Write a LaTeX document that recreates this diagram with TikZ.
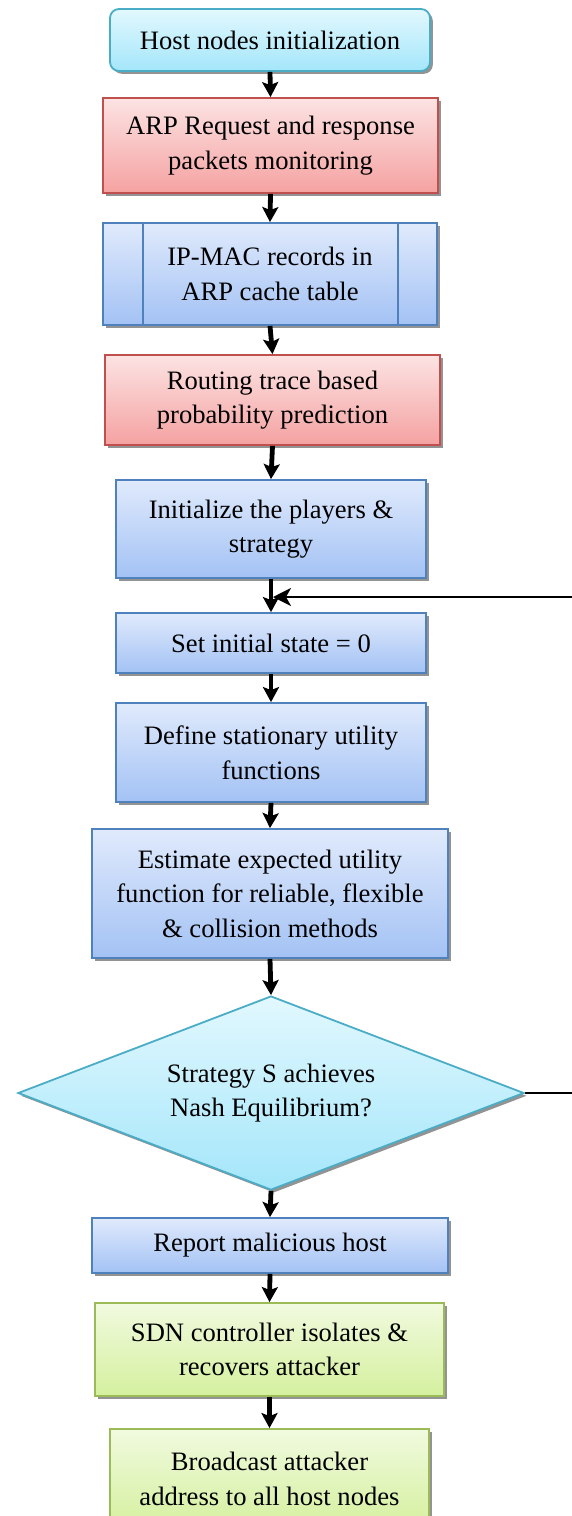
\documentclass[tikz,border=0pt]{standalone}
\usepackage{fontspec}
\setmainfont{Liberation Serif}
\usetikzlibrary{shapes.geometric,shadows,arrows.meta,calc}
\definecolor{cyTop}{HTML}{E2F8FE}
\definecolor{cyBot}{HTML}{A4E6FA}
\definecolor{cyLine}{HTML}{4BACC6}
\definecolor{rdTop}{HTML}{FCE3E3}
\definecolor{rdBot}{HTML}{F4A2A1}
\definecolor{rdLine}{HTML}{C0504D}
\definecolor{blTop}{HTML}{E0EAFC}
\definecolor{blBot}{HTML}{A3C2F4}
\definecolor{blLine}{HTML}{4F81BD}
\definecolor{grTop}{HTML}{F1FADF}
\definecolor{grBot}{HTML}{D4F09E}
\definecolor{grLine}{HTML}{9BBB59}
\tikzset{
  base/.style={draw, line width=0.9pt, inner sep=0pt, align=center,
    font=\fontsize{13.3}{17.3}\selectfont,
    drop shadow={shadow xshift=1.4pt, shadow yshift=-1.4pt, fill=black!50, opacity=0.85}},
  cybox/.style={base, draw=cyLine, top color=cyTop, bottom color=cyBot},
  rdbox/.style={base, draw=rdLine, top color=rdTop, bottom color=rdBot},
  blbox/.style={base, draw=blLine, top color=blTop, bottom color=blBot},
  grbox/.style={base, draw=grLine, top color=grTop, bottom color=grBot},
  flow/.style={line width=2.4pt, -{Stealth[length=7.5pt, width=8pt, inset=1.5pt]}},
  back/.style={line width=1.1pt, -{Stealth[length=9pt, width=9pt, inset=2.5pt]}},
  plain/.style={line width=1.1pt}
}
\begin{document}
\begin{tikzpicture}[x=0.5pt, y=-0.5pt]
\useasboundingbox (0,0) rectangle (572,1516);
\clip (0,0) rectangle (572,1516);

\node[cybox, rounded corners=4.5pt, minimum width=160pt, minimum height=31pt] (host) at (270,40) {Host nodes initialization};
\node[rdbox, minimum width=167.5pt, minimum height=47.5pt] (arp) at (270.5,145.5) {ARP Request and response\\packets monitoring};
\node[blbox, minimum width=167pt, minimum height=51pt] (ipmac) at (270,274) {IP-MAC records in\\ARP cache table};
\draw[blLine, line width=0.9pt] ($(ipmac.north west)+(41,0)$) -- ($(ipmac.south west)+(41,0)$);
\draw[blLine, line width=0.9pt] ($(ipmac.north east)+(-40,0)$) -- ($(ipmac.south east)+(-40,0)$);
\node[rdbox, minimum width=167.5pt, minimum height=45pt] (route) at (272.5,400) {Routing trace based\\probability prediction};
\node[blbox, minimum width=155pt, minimum height=49pt] (init) at (271,529) {Initialize the players \&\\strategy};
\node[blbox, minimum width=155pt, minimum height=30pt] (set) at (271,643) {Set initial state = 0};
\node[blbox, minimum width=155pt, minimum height=49.5pt] (def) at (271,752.5) {Define stationary utility\\functions};
\node[blbox, minimum width=178pt, minimum height=64.5pt] (est) at (270,893.5) {Estimate expected utility\\function for reliable, flexible\\\& collision methods};
\node[cybox, diamond, aspect=2.6, minimum width=253pt, minimum height=97pt] (dia) at (271,1093) {Strategy S achieves\\Nash Equilibrium?};
\node[blbox, minimum width=178pt, minimum height=27.5pt] (rep) at (270,1245.5) {Report malicious host};
\node[grbox, minimum width=174.5pt, minimum height=46.5pt] (sdn) at (269.5,1349.5) {SDN controller isolates \&\\recovers attacker};
\node[grbox, minimum width=159.5pt, minimum height=50pt] (bc) at (269.5,1479) {Broadcast attacker\\address to all host nodes};

\coordinate (j) at (271,597);
\coordinate (r1) at (590,1093);
\coordinate (r2) at (590,597);

\draw[flow] (host.south) -- (arp.north);
\draw[flow] (arp.south) -- (ipmac.north);
\draw[flow] (ipmac.south) -- (route.north);
\draw[flow] (route.south) -- (init.north);
\draw[flow] (init.south) -- (set.north);
\draw[flow] (set.south) -- (def.north);
\draw[flow] (def.south) -- (est.north);
\draw[flow] (est.south) -- (dia.north);
\draw[flow] (dia.south) -- (rep.north);
\draw[flow] (rep.south) -- (sdn.north);
\draw[flow] (sdn.south) -- (bc.north);
\draw[plain] (dia.east) -- (r1) -- (r2);
\draw[back] (r2) -- ($(j)+(2,0)$);
\end{tikzpicture}
\end{document}
